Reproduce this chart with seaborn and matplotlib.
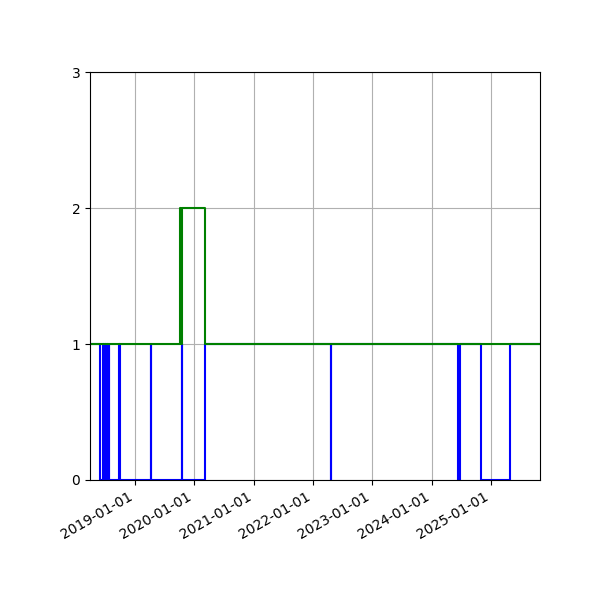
import matplotlib
matplotlib.use("Agg")
import matplotlib.pyplot as plt
import matplotlib.dates as mdates
import seaborn as sns
import pandas as pd

# change points of the blue series (steps-post)
blue_dates = ["2018-03-30", "2018-05-31", "2018-06-02", "2018-06-18", "2018-06-24",
              "2018-06-30", "2018-07-06", "2018-07-12", "2018-07-18", "2018-07-22",
              "2018-07-26", "2018-09-27", "2018-10-01", "2019-04-08", "2019-04-12",
              "2019-10-15", "2019-10-20", "2020-03-07", "2022-04-19", "2022-04-23",
              "2024-06-12", "2024-06-16", "2024-06-19", "2024-06-23", "2024-10-29",
              "2025-05-01", "2025-10-30"]
blue_values = [1, 0, 0, 1, 0,
               1, 0, 1, 0, 1,
               0, 1, 0, 1, 0,
               1, 0, 1, 0, 1,
               0, 1, 0, 1, 0,
               1, 1]

# change points of the green series
green_dates = ["2018-03-30", "2019-10-05", "2019-10-11", "2019-10-16", "2020-03-07",
               "2025-10-30"]
green_values = [1, 2, 1, 2, 1, 1]

blue = pd.DataFrame({"date": pd.to_datetime(blue_dates), "value": blue_values})
green = pd.DataFrame({"date": pd.to_datetime(green_dates), "value": green_values})

fig, ax = plt.subplots(figsize=(6, 6), dpi=100)
sns.lineplot(data=blue, x="date", y="value", color="blue", drawstyle="steps-post",
             estimator=None, ax=ax)
sns.lineplot(data=green, x="date", y="value", color="green", drawstyle="steps-post",
             estimator=None, ax=ax)

ax.set_xlim(blue["date"].min(), blue["date"].max())
ax.set_ylim(0, 3)
ax.set_yticks([0, 1, 2, 3])
ax.xaxis.set_major_locator(mdates.YearLocator())
ax.xaxis.set_major_formatter(mdates.DateFormatter("%Y-%m-%d"))
ax.set_xlabel("")
ax.set_ylabel("")
ax.grid(True)
fig.autofmt_xdate()
fig.subplots_adjust(left=0.15, right=0.9, top=0.88, bottom=0.2)
fig.savefig("out.png", dpi=100)
